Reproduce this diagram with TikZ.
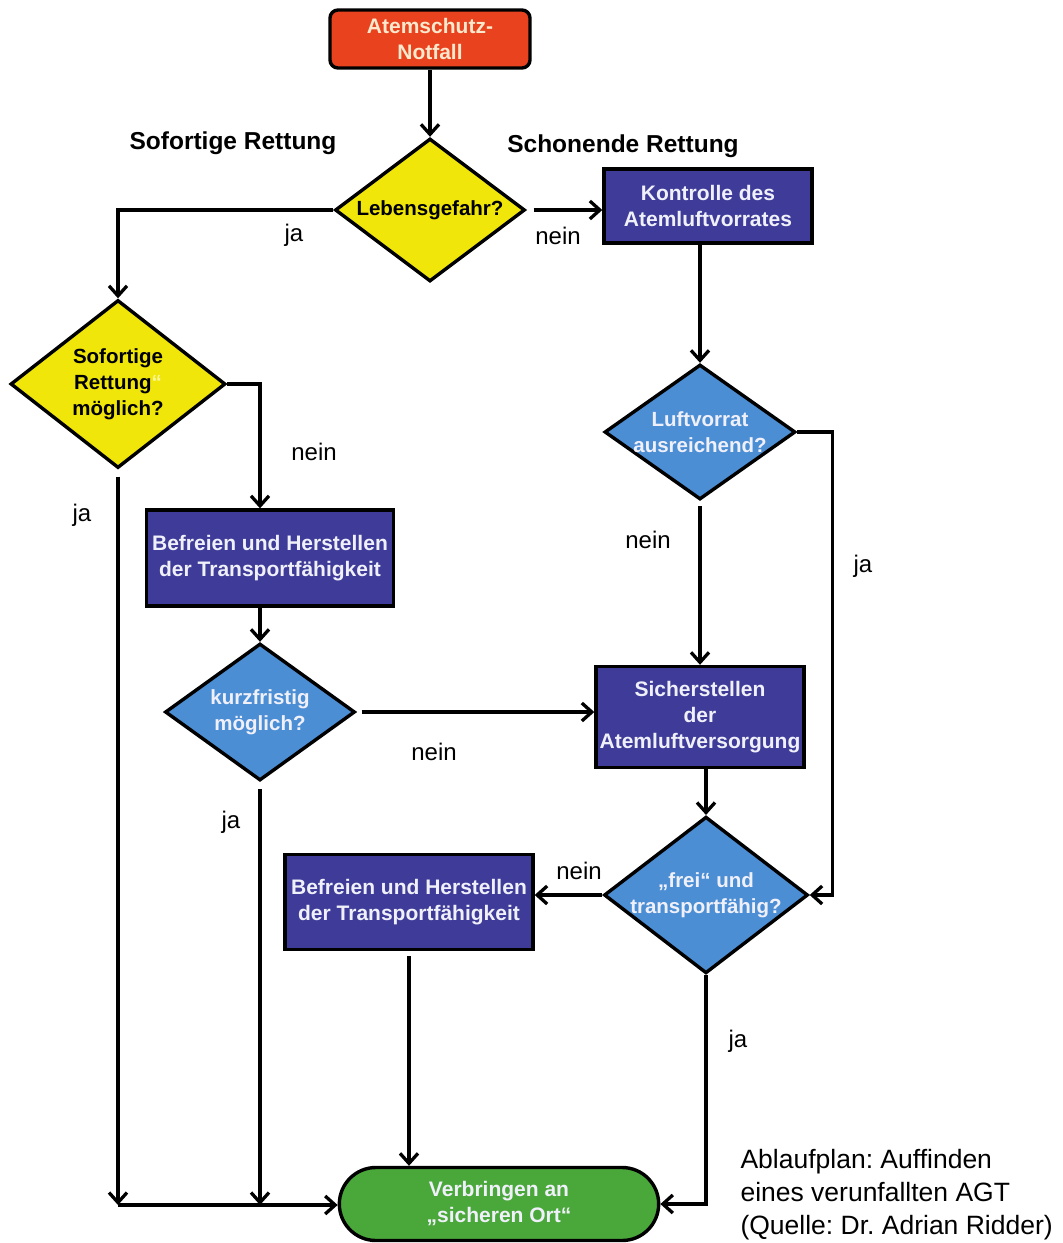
\documentclass[tikz,border=0pt]{standalone}
\usepackage{fontspec}
\setmainfont{Liberation Sans}
\usetikzlibrary{arrows.meta,shapes.geometric,shapes.misc}
\definecolor{notrot}{RGB}{232,66,30}
\definecolor{notschrift}{RGB}{252,232,205}
\definecolor{gelb}{RGB}{240,230,10}
\definecolor{violett}{RGB}{62,60,152}
\definecolor{hellblau}{RGB}{76,142,212}
\definecolor{gruen}{RGB}{74,168,58}
\definecolor{weiss}{RGB}{240,240,250}
\frenchspacing

\begin{document}
\begin{tikzpicture}[x=1pt,y=-1pt,
 box/.style={draw=black,line width=3.4pt,fill=violett,text=weiss,align=center,font=\bfseries\fontsize{21}{26}\selectfont,inner sep=2pt},
 dia/.style={diamond,draw=black,line width=3.4pt,fill=hellblau,text=weiss,align=center,font=\bfseries\fontsize{20.5}{26}\selectfont,inner xsep=-20pt,inner ysep=0pt},
 arr/.style={-{Straight Barb[length=10pt,width=18pt]},line width=3.3pt},
 lbl/.style={font=\fontsize{24}{28}\selectfont},
 titel/.style={font=\bfseries\fontsize{24.5}{28}\selectfont}]
\useasboundingbox (0,0) rectangle (1063,1243);
\node[box,fill=notrot,text=notschrift,rounded corners=8pt,minimum width=200pt,minimum height=58pt] (start) at (430,39) {Atemschutz-\\Notfall};
\node[dia,fill=gelb,text=black,minimum width=190pt,minimum height=143pt] (leben) at (430,210) {Lebensgefahr?};
\node[titel] (sofortig) at (233,143) {Sofortige Rettung};
\node[titel] (schonend) at (623,146) {Schonende Rettung};
\node[box,minimum width=208pt,minimum height=74pt] (kontrolle) at (708,206) {Kontrolle des\\Atemluftvorrates};
\node[dia,fill=gelb,text=black,minimum width=215pt,minimum height=168pt] (sofort) at (118,384) {Sofortige\\Rettung\textcolor{gelb!40!white}{“}\\möglich?};
\node[dia,minimum width=191pt,minimum height=135pt] (luft) at (700,432) {Luftvorrat\\ausreichend?};
\node[box,minimum width=247pt,minimum height=96pt] (befreienA) at (270,558) {Befreien und Herstellen\\der Transportfähigkeit};
\node[dia,minimum width=190pt,minimum height=137pt] (kurz) at (260,712) {kurzfristig\\möglich?};
\node[box,minimum width=208pt,minimum height=101pt] (sicher) at (700,717) {Sicherstellen\\der\\Atemluftversorgung};
\node[dia,minimum width=204pt,minimum height=140pt] (frei) at (706,895) {„frei“ und\\transportfähig?};
\node[box,minimum width=248pt,minimum height=95pt] (befreienB) at (409,902) {Befreien und Herstellen\\der Transportfähigkeit};
\node[rounded rectangle,draw=black,line width=3.4pt,fill=gruen,text=weiss,align=center,font=\bfseries\fontsize{21}{26}\selectfont,minimum width=326pt,minimum height=73pt] (ziel) at (499,1204) {Verbringen an\\„sicheren Ort“};
\node[anchor=north west,align=left,font=\fontsize{26.5}{33}\selectfont] (quelle) at (737,1146) {Ablaufplan: Auffinden\\eines verunfallten AGT\\(Quelle: Dr. Adrian Ridder)};
\coordinate (sammel) at (118,1205);

\draw[arr] (start) -- (leben);
\draw[arr] (leben.west) -| (sofort.north);
\draw[arr,shorten <=7pt] (leben.east) -- (leben.east -| kontrolle.west);
\draw[arr] (luft |- kontrolle.south) -- (luft.north);
\draw[arr] (luft.east) -- ++(35,0) |- (frei.east);
\draw[arr,shorten <=5pt] (luft.south) -- (luft |- sicher.north);
\draw[arr] (frei |- sicher.south) -- (frei.north);
\draw[arr] (frei.west) -- (frei.west -| befreienB.east);
\draw[arr,shorten <=5pt] (befreienB.south) -- (befreienB.south |- ziel.north);
\draw[arr] (frei.south) |- (ziel.east);
\draw[arr] (sofort.east) -| (kurz |- befreienA.north);
\draw[arr] (kurz |- befreienA.south) -- (kurz.north);
\draw[arr,shorten <=5pt] (kurz.east) -- (kurz.east -| sicher.west);
\draw[arr,shorten <=7pt] (sofort.south) -- (sammel);
\draw[arr,shorten <=7pt] (kurz.south) -- (kurz |- sammel);
\draw[arr] (sammel) -- (sammel -| ziel.west);

\node[lbl] (ja1) at (294,235) {ja};
\node[lbl] (nein1) at (558,236) {nein};
\node[lbl] (nein2) at (314,452) {nein};
\node[lbl] (ja2) at (82,515) {ja};
\node[lbl] (nein3) at (648,540) {nein};
\node[lbl] (ja3) at (863,566) {ja};
\node[lbl] (nein4) at (434,752) {nein};
\node[lbl] (ja4) at (231,822) {ja};
\node[lbl] (nein5) at (579,871) {nein};
\node[lbl] (ja5) at (738,1041) {ja};
\end{tikzpicture}
\end{document}
